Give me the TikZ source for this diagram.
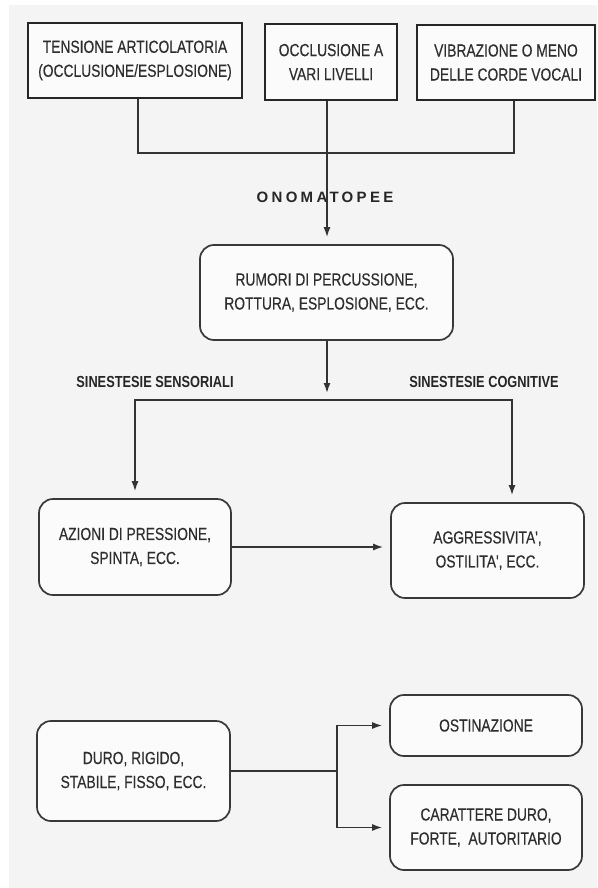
\documentclass[tikz,border=0pt]{standalone}
\usepackage{fontspec}
\setmainfont{Liberation Sans}
\newfontfamily\boxfont[FakeStretch=0.79,FakeBold=0.3]{Liberation Sans}
\newfontfamily\labelfont[FakeStretch=0.8]{Liberation Sans}
\newfontfamily\titlefont[LetterSpace=22]{Liberation Sans}
\usetikzlibrary{arrows.meta}

\begin{document}
\begin{tikzpicture}[x=1pt,y=-1pt,
  squarebox/.style={draw=black!85, line width=2.8pt, fill=gray!3, inner sep=0pt,
    align=center, text=black!82, font=\boxfont\fontsize{17.5}{24}\selectfont},
  roundbox/.style={draw=black!78, line width=1.7pt, rounded corners=14pt, fill=gray!3,
    inner sep=0pt, align=center, text=black!82, font=\boxfont\fontsize{17.5}{24}\selectfont},
  link/.style={draw=black!80, line width=1.5pt},
  arrow/.style={link, -{Latex[length=10pt,width=7pt]}, shorten >=7pt},
  tag/.style={inner sep=0pt, text=black!85, font=\labelfont\bfseries\fontsize{16}{18}\selectfont},
  heading/.style={inner sep=0pt, text=black!85, font=\titlefont\bfseries\fontsize{15}{17}\selectfont}
]
% page
\fill[white] (0,0) rectangle (597,888);
\fill[gray!9] (9,5) rectangle (597,888);
\useasboundingbox (0,0) rectangle (597,888);

% sources
\node[squarebox, minimum width=214pt, minimum height=75pt] (b1) at (135,60.5)
  {TENSIONE ARTICOLATORIA\\(OCCLUSIONE/ESPLOSIONE)};
\node[squarebox, minimum width=132pt, minimum height=76pt] (b2) at (331,62)
  {OCCLUSIONE A\\VARI LIVELLI};
\node[squarebox, minimum width=178pt, minimum height=75pt] (b3) at (506,62.5)
  {VIBRAZIONE O MENO\\DELLE CORDE VOCALI};

% onomatopoeia
\node[roundbox, minimum width=253pt, minimum height=95pt] (rum) at (326.5,292.5)
  {RUMORI DI PERCUSSIONE,\\ROTTURA, ESPLOSIONE, ECC.};

% synaesthesia
\node[roundbox, minimum width=192pt, minimum height=96pt] (az) at (135,547)
  {AZIONI DI PRESSIONE,\\SPINTA, ECC.};
\node[roundbox, minimum width=193pt, minimum height=95pt] (ag) at (487.5,550.5)
  {AGGRESSIVITA',\\OSTILITA', ECC.};

% hardness
\node[roundbox, minimum width=193pt, minimum height=100pt] (du) at (133.5,771)
  {DURO, RIGIDO,\\STABILE, FISSO, ECC.};
\node[roundbox, minimum width=192pt, minimum height=61pt] (os) at (486,725.5)
  {OSTINAZIONE};
\node[roundbox, minimum width=192pt, minimum height=85pt] (ca) at (486,827.5)
  {CARATTERE DURO,\\FORTE,\ \ AUTORITARIO};

% junction points
\coordinate (top) at (327,153);
\coordinate (split) at (327,400);
\coordinate (fork) at (337,771);

% connectors
\draw[link] ([xshift=3pt]b1.south) |- ([xshift=8pt]b3.south |- top) -- ([xshift=8pt]b3.south);
\node[heading] (ono) at (325,197) {ONOMATOPEE};
\draw[arrow] (b2.south -| top) -- (rum.north -| top);
\draw[arrow] (rum.south -| split) -- (split);
\draw[arrow] (split) -| (az.north);
\draw[arrow] (split) -| ([xshift=24.5pt]ag.north);
\draw[arrow] (az.east) -- (az.east -| ag.west);
\draw[link] (du.east) -- (fork);
\draw[arrow] (fork) |- (os.west);
\draw[arrow] (fork) |- (ca.west);

% branch labels
\node[tag] (sens) at (155,382) {SINESTESIE SENSORIALI};
\node[tag] (cogn) at (484,382) {SINESTESIE COGNITIVE};
\end{tikzpicture}
\end{document}
